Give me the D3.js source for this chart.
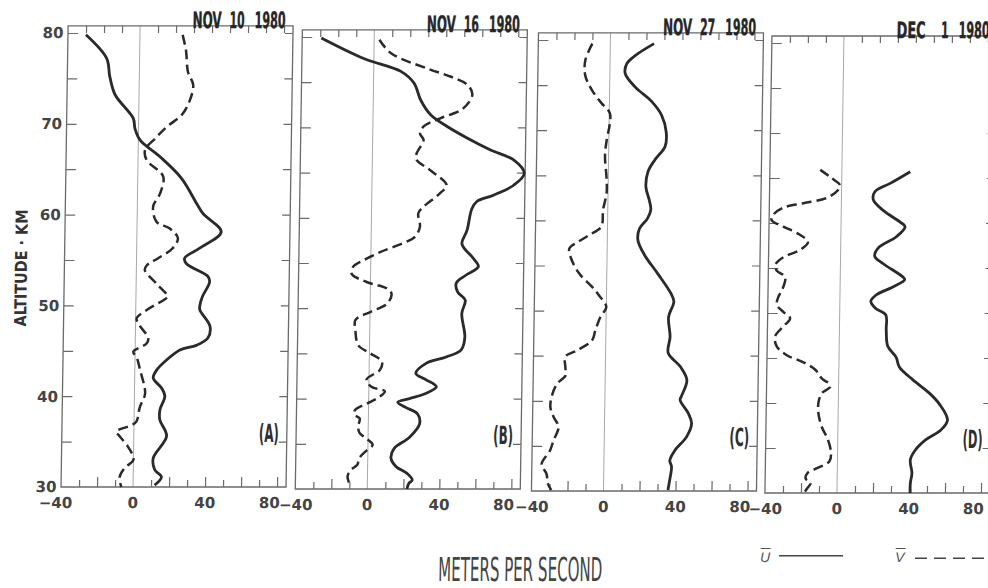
<!DOCTYPE html>
<html><head><meta charset="utf-8">
<script src="https://cdn.jsdelivr.net/npm/d3@7/dist/d3.min.js"></script>
<style>body{margin:0;background:#fff;overflow:hidden}</style>
</head><body>
<svg id="c" width="988" height="588"></svg>
<script>
// ---------- data ----------
const dates = [["NOV","10","1980"],["NOV","16","1980"],["NOV","27","1980"],["DEC","1","1980"]];
const panelTags = ["(A)","(B)","(C)","(D)"];
const xTickLabels = [-40,0,40,80];
const yTickLabels = [30,40,50,60,70,80];
const xLabel = "METERS PER SECOND";
const yLabel = "ALTITUDE · KM";
const legendNames = ["U","V"];

// [altitude km, speed m/s]
const uNov10 = [[79.8,-30],[77.2,-18.3],[75.2,-16.4],[73.2,-13.3],[70.6,-3],[69.5,-2],[68.2,1],[66.4,12],[64.0,24.3],[61.2,33],[60.1,36.6],[58.1,46.8],[56.3,35],[55.2,26.7],[54.6,27.7],[53.2,39.8],[52.6,40.8],[51.0,37],[50.0,35.6],[49.5,35.6],[47.7,41.4],[46.4,40.3],[45.6,34],[45.1,24.9],[44.0,17.6],[42.9,12.2],[42.0,10.3],[40.9,15],[40.0,16.9],[38.5,14.3],[37.4,14.3],[35.6,18.2],[33.2,11],[31.9,11.9],[31.1,15.7],[30.2,12]];
const vNov10 = [[79.8,23.7],[78.1,25.7],[75.7,27],[74.3,30],[72.6,28.3],[71,24],[69.7,15.9],[68.4,9.4],[67.1,3.8],[66,4.8],[64.2,14.1],[62.3,12.5],[60.9,8.8],[59.2,10.8],[58.5,18],[57.4,22.8],[56.3,20],[55.2,12],[54.4,5.7],[53.9,4.7],[52.4,11.3],[51.0,17.7],[50.8,17],[49.5,6.1],[48.6,0.6],[48.0,1.5],[46.4,7.2],[45.8,6.3],[44.9,-1],[44.3,0.9],[42.9,2.9],[40.3,5.9],[38.8,3.1],[37.2,1.3],[36.8,-1.5],[36.1,-9.8],[35.6,-7.9],[34.4,-3],[33.0,0],[32.1,-4.8],[31.1,-7.5],[30.0,-6.5]];
const uNov16 = [[79.9,-29.4],[77.6,-5.3],[76.2,15.1],[74.9,22.5],[73.0,26.4],[71.4,32],[70.1,41.3],[68.8,52.7],[67.5,65.6],[66.4,78.5],[64.9,84.5],[63.6,78.7],[62.5,67.6],[61.8,58.4],[61.0,55.7],[58.6,53.2],[57.1,50.5],[55.5,57],[54.6,59.8],[53.7,53.3],[52.8,47.7],[51.8,48.5],[50.9,52.8],[49.4,51],[46.8,52.9],[45.4,51],[44.6,42.7],[43.9,31.6],[42.8,26],[42.1,31.6],[41.3,37.5],[40.6,32],[40.0,22.7],[39.6,16.2],[39.0,20.9],[38.3,27.3],[37.2,28.5],[35.7,22.9],[34.5,14.6],[33.4,12.9],[32.5,15.7],[31.7,22.1],[31.0,24.9],[30.6,23],[30.0,22]];
const vNov16 = [[79.7,2.9],[78.2,9.5],[76.5,29.9],[75.6,43],[74.7,52.3],[73.7,55],[72.8,53.2],[71.9,48.6],[71.0,37.4],[70.1,28.2],[69.3,26.3],[68.6,28.3],[67.1,24.5],[66.4,24.6],[65.3,32],[63.6,41.5],[62.7,37.8],[61.2,28.7],[60.5,26],[59.0,27],[57.9,24.3],[57.2,17.9],[56.2,5.1],[55.3,-4.1],[54.6,-9.7],[53.8,-10.5],[52.9,-2.1],[52.2,9],[51.6,11.8],[50.5,9.5],[49.6,0.4],[48.7,-8],[47.6,-8],[45.9,-6.2],[45.0,0.5],[44.1,7],[43.2,6.1],[42.1,-1.4],[41.3,1.4],[40.8,8.9],[40.0,4.4],[39.6,0.7],[38.7,-7.6],[38.2,-7.6],[37.8,-4.8],[36.9,-5.6],[36.2,-4.8],[35.6,-1.1],[34.9,2.6],[34.2,-1.1],[33.4,-4.8],[32.7,-5.7],[32.1,-9.3],[31.4,-11.1],[30.6,-10]];
const uNov27 = [[79.6,24.3],[78.3,14.1],[77.4,9.4],[76.3,8.5],[74.8,14.1],[73.2,23.4],[71.7,29],[69.8,31.8],[68.2,31.3],[66.7,25.7],[65.4,22],[63.7,21],[62.3,22.9],[61.2,23.9],[60.2,22.1],[59.1,17.8],[57.8,17],[56.2,20.7],[54.1,28.3],[51.9,35.8],[51.0,37.5],[49.3,34.7],[47.1,35.7],[45.3,34.8],[43.8,41.6],[42.3,45.4],[40.6,42.7],[40.1,41.8],[38.6,46.5],[37.5,48.4],[36.0,45.7],[34.5,39.3],[33.4,36.6],[32.7,37.6],[31.2,36.7],[30.1,35.8]];
const vNov27 = [[79.6,-10],[77.8,-13.7],[76.1,-13.7],[74.5,-10],[73.0,-4.4],[71.9,0.3],[70.6,0.3],[68.9,-1.2],[67.1,-2],[64.8,-1],[63.0,-0.8],[61.2,-2.6],[59.3,-3.5],[58.4,-10],[57.6,-16.3],[56.9,-21],[55.8,-20],[54.1,-15.3],[52.6,-7.9],[51.7,-4.2],[50.4,0],[49.3,-3.2],[47.8,-5.9],[46.7,-7.6],[45.6,-15.8],[44.9,-22.3],[43.7,-22.2],[42.8,-22],[41.9,-26.6],[40.6,-29.4],[39.3,-30.2],[38.2,-28.3],[37.1,-25.5],[35.6,-28.2],[34.5,-30],[33.0,-34.6],[31.9,-31.8],[30.8,-30.9],[30.1,-29]];
const uDec1 = [[65.7,38],[64.4,26.9],[63.5,18.6],[62.6,17.7],[61.4,23.3],[60.1,32.8],[59.6,35.6],[58.5,31],[57.2,20.8],[56.3,19],[55.5,23.6],[54.0,34.8],[53.7,35.8],[52.9,29.3],[52.0,20.1],[51.3,17.2],[50.5,20],[49.8,25.6],[48.1,26],[46.3,27],[45.1,31.7],[44.0,33.6],[42.6,41.1],[41.1,50.5],[39.9,56.1],[38.1,60.8],[37.0,57.2],[35.9,48.8],[34.8,43.3],[33.7,40.5],[32.2,41.5],[31.1,40.7],[30.0,40.7]];
const vDec1 = [[65.9,-12],[65.1,-6.4],[64.2,-0.9],[63.7,-1.8],[62.8,-8.1],[62.2,-21.1],[61.7,-32.2],[60.9,-37.8],[60.3,-38.6],[59.6,-32],[58.7,-22.8],[57.9,-18.2],[57.0,-22.6],[56.2,-31.7],[55.3,-36.3],[54.7,-35.3],[54.0,-30.6],[52.5,-32.3],[51.8,-34.2],[50.9,-35],[50.1,-31.2],[49.4,-27.5],[48.5,-31.2],[47.4,-35.7],[46.3,-34.7],[45.3,-29],[44.6,-20.6],[43.7,-13.1],[42.7,-9.3],[42.2,-5.6],[41.8,-4.6],[41.1,-9.2],[40.1,-11],[38.9,-11],[37.4,-9.1],[35.9,-5.4],[34.4,-3.6],[33.5,-4.5],[32.7,-11.9],[32.2,-16.6],[31.6,-17.5],[31.1,-14.7],[30.5,-16.6],[30.0,-18.3]];

const uSeries = [uNov10, uNov16, uNov27, uDec1];
const vSeries = [vNov10, vNov16, vNov27, vDec1];

// ---------- layout ----------
const panelLeft = [68.5, 302.8, 539, 772.5];
const panelY80 = [33, 37, 40, 43];
const panelY30 = [487, 489, 491, 493];
const pxPerUnit = 1.8;
const xDom = [-40, 85];
const topAlt = 80.78;
const ink = "#2a2a2a";
const frameCol = "#6a6a6a";
const tickFont = "'DejaVu Sans', sans-serif";
const narrowFont = "'Liberation Sans Narrow', 'DejaVu Sans Condensed', sans-serif";

const svg = d3.select("#c");
const root = svg.append("g").attr("transform", "skewX(-0.88)");

function cleanAxis(sel) {
  sel.select(".domain").remove();
  sel.selectAll(".tick line").attr("stroke", frameCol).attr("stroke-width", 1.2);
  sel.selectAll(".tick text").remove();
}

dates.forEach((dt, i) => {
  const x = d3.scaleLinear().domain(xDom).range([panelLeft[i], panelLeft[i] + (xDom[1] - xDom[0]) * pxPerUnit]);
  const y = d3.scaleLinear().domain([30, 80]).range([panelY30[i], panelY80[i]]);
  const g = root.append("g");
  const yTop = y(topAlt), yBot = y(30);

  // zero line
  g.append("line").attr("x1", x(0)).attr("x2", x(0)).attr("y1", yBot).attr("y2", yTop)
    .attr("stroke", "#a8a8a8").attr("stroke-width", 1);

  // frame
  g.append("rect").attr("x", x(-40)).attr("y", yTop).attr("width", x(85) - x(-40)).attr("height", yBot - yTop)
    .attr("fill", "none").attr("stroke", frameCol).attr("stroke-width", 1.3);

  const tenTicks = d3.range(-30, 81, 10).filter(v => v !== 0);
  const majorTicks = tenTicks.filter(v => v % 20 === 0);
  const minorTicks = tenTicks.filter(v => v % 20 !== 0);
  const altTicks = d3.range(35, 80.1, 5);

  g.append("g").attr("transform", `translate(0,${yBot})`)
    .call(d3.axisBottom(x).tickValues(majorTicks).tickSize(-10)).call(cleanAxis);
  g.append("g").attr("transform", `translate(0,${yBot})`)
    .call(d3.axisBottom(x).tickValues(minorTicks).tickSize(-7)).call(cleanAxis);
  g.append("g").attr("transform", `translate(0,${yTop})`)
    .call(d3.axisTop(x).tickValues(tenTicks).tickSize(-7)).call(cleanAxis);
  const la = g.append("g").attr("transform", `translate(${x(-40)},0)`)
    .call(d3.axisLeft(y).tickValues(altTicks).tickSize(-10).tickPadding(4.5)
      .tickFormat(d => (i === 0 && yTickLabels.includes(d)) ? d : ""));
  la.select(".domain").remove();
  la.selectAll(".tick line").attr("stroke", frameCol).attr("stroke-width", 1.2);
  if (i === 0) {
    la.selectAll(".tick text").attr("font-family", tickFont).attr("font-weight", "bold")
      .attr("font-size", 15).attr("fill", "#444");
    g.append("text").attr("x", x(-40) - 4.5).attr("y", y(30)).attr("dy", "0.36em")
      .attr("text-anchor", "end").attr("font-family", tickFont).attr("font-weight", "bold")
      .attr("font-size", 15).attr("fill", "#444").text(yTickLabels[0]);
  } else {
    la.selectAll(".tick text").remove();
  }
  g.append("g").attr("transform", `translate(${x(85)},0)`)
    .call(d3.axisRight(y).tickValues(altTicks).tickSize(-8)).call(cleanAxis);

  // x tick labels
  const digitHalf = 10.4;
  xTickLabels.forEach(v => {
    const t = g.append("text").attr("y", yBot + 21)
      .attr("font-family", tickFont).attr("font-weight", "bold").attr("font-size", 15).attr("fill", "#444");
    if (v < 0) {
      t.attr("x", x(v) + (i === 0 ? 1 : 7) + digitHalf).attr("text-anchor", "end").text("\u2212" + Math.abs(v));
    } else if (v === 80) {
      t.attr("x", x(v) + 3).attr("text-anchor", "end").text(v);
    } else {
      t.attr("x", x(v)).attr("text-anchor", "middle").text(v);
    }
  });

  // title
  const tEnd = x(85) - 7.5;
  const tY = yTop + 1.8;
  const tf = (s) => s.attr("font-family", narrowFont).attr("font-weight", "bold").attr("font-size", 22.5)
    .attr("fill", "#262626").attr("stroke", "#262626").attr("stroke-width", 0.4);
  g.append("text").call(tf).attr("x", tEnd - 93).attr("y", tY).attr("textLength", 29).attr("lengthAdjust", "spacingAndGlyphs").text(dt[0]);
  g.append("text").call(tf).attr("x", tEnd - 41).attr("y", tY).attr("text-anchor", "end")
    .attr("textLength", dt[1].length * 7.5).attr("lengthAdjust", "spacingAndGlyphs").text(dt[1]);
  g.append("text").call(tf).attr("x", tEnd).attr("y", tY).attr("text-anchor", "end")
    .attr("textLength", 31).attr("lengthAdjust", "spacingAndGlyphs").text(dt[2]);

  // panel tag
  g.append("text").attr("x", x(80) + 1).attr("y", y(35)).attr("text-anchor", "end")
    .attr("font-family", narrowFont).attr("font-weight", "bold").attr("font-size", 25).attr("fill", "#2e2e2e")
    .attr("textLength", 20).attr("lengthAdjust", "spacingAndGlyphs").text(panelTags[i]);

  // curves
  const line = d3.line().x(d => x(d[1])).y(d => y(d[0])).curve(d3.curveCatmullRom.alpha(0.5));
  g.append("path").datum(vSeries[i]).attr("d", line).attr("fill", "none")
    .attr("stroke", ink).attr("stroke-width", 2.5).attr("stroke-dasharray", "10,5");
  g.append("path").datum(uSeries[i]).attr("d", line).attr("fill", "none")
    .attr("stroke", ink).attr("stroke-width", 2.8).attr("stroke-linejoin", "round");
});

// y axis title
root.append("text").attr("transform", "translate(31,268) rotate(-90)").attr("text-anchor", "middle")
  .attr("font-family", narrowFont).attr("font-weight", "bold").attr("font-size", 16.5).attr("fill", "#333")
  .attr("textLength", 117).attr("lengthAdjust", "spacingAndGlyphs").text(yLabel);

// x axis title
root.append("text").attr("x", 529).attr("y", 581).attr("text-anchor", "middle")
  .attr("font-family", narrowFont).attr("font-size", 33).attr("fill", "#444")
  .attr("textLength", 164).attr("lengthAdjust", "spacingAndGlyphs").text(xLabel);

// legend
const lg = root.append("g");
const legendItems = [{name: legendNames[0], tx: 768.6, x1: 787.6, x2: 851.6, ly: 555.7, dash: null},
                     {name: legendNames[1], tx: 903.6, x1: 923.6, x2: 1000, ly: 558.3, dash: "12,7"}];
legendItems.forEach(it => {
  lg.append("text").attr("x", it.tx).attr("y", 562.5).attr("font-family", "'Liberation Sans', sans-serif")
    .attr("font-style", "italic").attr("font-size", 14).attr("fill", "#555").text(it.name);
  lg.append("line").attr("x1", it.tx + 0.5).attr("x2", it.tx + 10.5).attr("y1", 548.5).attr("y2", 548.5)
    .attr("stroke", "#555").attr("stroke-width", 1.1);
  lg.append("line").attr("x1", it.x1).attr("x2", it.x2).attr("y1", it.ly).attr("y2", it.ly)
    .attr("stroke", "#444").attr("stroke-width", 1.6).attr("stroke-dasharray", it.dash);
});
</script>
</body></html>
